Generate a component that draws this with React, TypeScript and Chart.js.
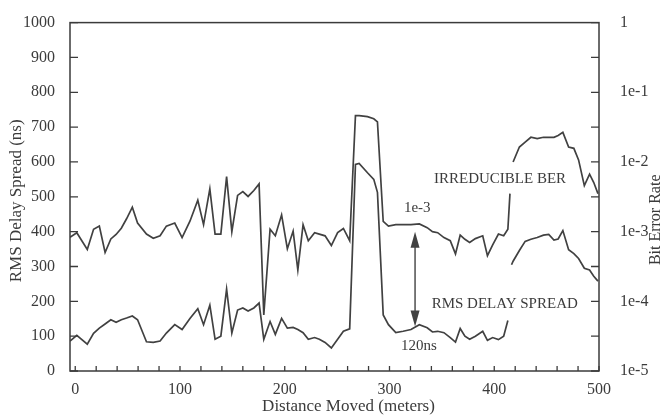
import { useEffect, useRef } from 'react';
import { Chart, registerables } from 'chart.js';

Chart.register(...registerables);

// Distance moved (meters) at each measurement point
const distance = [
  -5, 1.5, 11.5, 17.5, 23, 28.5, 34, 39, 44, 49, 54.5, 59.5, 68, 74.5, 81, 87, 95, 102, 109.5, 117,
  122.5, 128.5, 133.5, 139, 144.5, 149.5, 155, 160, 165, 170.5, 175.5, 180, 186, 191, 197, 202.5, 208, 212.5, 217.5, 222.5,
  228.5, 233, 238.5, 244.5, 250.5, 256, 262, 267.5, 271, 279, 285, 288.5, 294, 299, 306, 313, 320.5, 328.5, 336, 341,
  346, 352, 358, 363, 367.5, 372, 376.5, 382, 389, 393.5, 398.5, 404, 409, 413, 415, 416.5, 418, 424, 429.5, 435,
  441, 447, 452, 457, 461, 465.5, 471, 476, 480.5, 486, 491, 495, 499,
];

// RMS delay spread (ns), left axis
const delaySpread = [
  86, 102, 77, 108, 123, 135, 147, 140, 147, 152, 158, 147, 84, 82, 86, 109, 133, 119, 151, 179,
  133, 189, 91, 100, 235, 109, 175, 181, 172, 181, 195, 91, 142, 105, 151, 123, 125, 119, 110, 91,
  96, 91, 82, 66, 91, 114, 121, 593, 596, 569, 550, 513, 161, 133, 110, 114, 119, 133, 124, 112,
  114, 110, 96, 83, 122, 100, 91, 100, 114, 88, 96, 90, 100, 145, null, 305, 315, 346, 372, 378,
  383, 390, 392, 376, 379, 403, 348, 337, 323, 295, 290, 272, 258,
];

// Irreducible bit error rate, right (log) axis
const bitErrorRate = [
  8.32e-4, 9.66e-4, 5.56e-4, 1.08e-3, 1.2e-3, 5.01e-4, 7.85e-4, 9.12e-4, 1.12e-3, 1.53e-3, 2.24e-3, 1.33e-3, 9.23e-4, 8.04e-4, 8.71e-4, 1.2e-3, 1.33e-3, 8.22e-4, 1.41e-3, 2.82e-3,
  1.26e-3, 4.12e-3, 9.23e-4, 9.23e-4, 6.17e-3, 1.0e-3, 3.31e-3, 3.76e-3, 3.2e-3, 3.89e-3, 4.84e-3, 6.38e-5, 1.08e-3, 8.71e-4, 1.74e-3, 5.69e-4, 1.02e-3, 2.82e-4, 1.26e-3, 7.41e-4,
  9.66e-4, 9.23e-4, 8.71e-4, 6.31e-4, 9.66e-4, 1.11e-3, 7.41e-4, 4.62e-2, 4.62e-2, 4.47e-2, 4.17e-2, 3.76e-2, 1.4e-3, 1.2e-3, 1.26e-3, 1.26e-3, 1.26e-3, 1.29e-3, 1.14e-3, 1.0e-3,
  9.66e-4, 8.22e-4, 7.41e-4, 4.79e-4, 8.91e-4, 7.76e-4, 7.0e-4, 7.94e-4, 8.71e-4, 4.52e-4, 6.46e-4, 9.23e-4, 8.71e-4, 1.08e-3, 3.51e-3, null, 1.0e-2, 1.64e-2, 1.93e-2, 2.26e-2,
  2.16e-2, 2.26e-2, 2.26e-2, 2.26e-2, 2.4e-2, 2.66e-2, 1.64e-2, 1.57e-2, 1.07e-2, 4.57e-3, 6.68e-3, 5.07e-3, 3.51e-3,
];

const distanceTicks = [0, 20, 40, 60, 80, 100, 120, 140, 160, 180, 200, 220, 240, 260, 280, 300, 320, 340, 360, 380, 400, 420, 440, 460, 480, 500];
const distanceLabels = [0, 100, 200, 300, 400, 500];
const delayTicks = [0, 100, 200, 300, 400, 500, 600, 700, 800, 900, 1000];
const berTicks = [1e-5, 3.16e-5, 1e-4, 3.16e-4, 1e-3, 3.16e-3, 1e-2, 3.16e-2, 1e-1, 3.16e-1, 1];
const berTickLabels = ['1e-5', '', '1e-4', '', '1e-3', '', '1e-2', '', '1e-1', '', '1'];

const FONT = '"Liberation Serif", "Times New Roman", serif';
const INK = '#3b3b3b';
const LINE = '#414141';

const decorations = {
  id: 'decorations',
  afterDatasetsDraw(chart: any) {
    const { ctx, chartArea: a, scales } = chart;
    const xs = scales.x;
    const ys = scales.y;
    const yb = scales.y1;
    ctx.save();
    // frame
    ctx.strokeStyle = INK;
    ctx.lineWidth = 1.5;
    ctx.strokeRect(a.left, a.top, a.right - a.left, a.bottom - a.top);
    // inward ticks
    ctx.lineWidth = 1.3;
    ctx.beginPath();
    delayTicks.forEach((v) => {
      const p = ys.getPixelForValue(v);
      ctx.moveTo(a.left, p);
      ctx.lineTo(a.left + 8, p);
    });
    berTicks.forEach((v) => {
      const p = yb.getPixelForValue(v);
      ctx.moveTo(a.right, p);
      ctx.lineTo(a.right - 8, p);
    });
    distanceTicks.forEach((v) => {
      const p = xs.getPixelForValue(v);
      ctx.moveTo(p, a.bottom);
      ctx.lineTo(p, a.bottom - 5);
    });
    ctx.stroke();

    // axis titles
    ctx.fillStyle = INK;
    ctx.textAlign = 'center';
    ctx.textBaseline = 'middle';
    ctx.font = `17px ${FONT}`;
    ctx.fillText('Distance Moved (meters)', (a.left + a.right) / 2 + 14, a.bottom + 36, 176);
    ctx.save();
    ctx.translate(a.left - 53, (a.top + a.bottom) / 2 + 4);
    ctx.rotate(-Math.PI / 2);
    ctx.fillText('RMS Delay Spread (ns)', 0, 0, 166);
    ctx.restore();
    ctx.save();
    ctx.font = `16px ${FONT}`;
    ctx.translate(a.right + 57, (a.top + a.bottom) / 2 + 23);
    ctx.rotate(-Math.PI / 2);
    ctx.fillText('Bit Error Rate', 0, 0);
    ctx.restore();

    // annotations
    ctx.font = `15px ${FONT}`;
    ctx.fillText('IRREDUCIBLE BER', xs.getPixelForValue(405.5), ys.getPixelForValue(551), 138);
    ctx.fillText('RMS DELAY SPREAD', xs.getPixelForValue(410), ys.getPixelForValue(192), 154);
    ctx.fillText('1e-3', xs.getPixelForValue(326.5), ys.getPixelForValue(468));
    ctx.fillText('120ns', xs.getPixelForValue(328), ys.getPixelForValue(72));

    // double-headed arrow
    const ax = xs.getPixelForValue(324.4);
    const yTop = yb.getPixelForValue(1e-3);
    const yBot = ys.getPixelForValue(128);
    const head = 16;
    const half = 4.5;
    ctx.strokeStyle = LINE;
    ctx.fillStyle = LINE;
    ctx.lineWidth = 1.4;
    ctx.beginPath();
    ctx.moveTo(ax, yTop + head - 2);
    ctx.lineTo(ax, yBot - head + 2);
    ctx.stroke();
    ctx.beginPath();
    ctx.moveTo(ax, yTop);
    ctx.lineTo(ax - half, yTop + head);
    ctx.lineTo(ax + half, yTop + head);
    ctx.closePath();
    ctx.fill();
    ctx.beginPath();
    ctx.moveTo(ax, yBot);
    ctx.lineTo(ax - half, yBot - head);
    ctx.lineTo(ax + half, yBot - head);
    ctx.closePath();
    ctx.fill();
    ctx.restore();
  },
};

export default function App() {
  const canvasRef = useRef<HTMLCanvasElement | null>(null);

  useEffect(() => {
    if (!canvasRef.current) return;
    const tickFont = { family: FONT, size: 16 };
    const chart = new Chart(canvasRef.current, {
      type: 'line',
      data: {
        datasets: [
          {
            label: 'Irreducible BER',
            data: distance.map((d, i) => ({ x: d, y: bitErrorRate[i] })),
            yAxisID: 'y1',
            borderColor: LINE,
            borderWidth: 1.7,
            pointRadius: 0,
            tension: 0,
            spanGaps: false,
          },
          {
            label: 'RMS Delay Spread',
            data: distance.map((d, i) => ({ x: d, y: delaySpread[i] })),
            yAxisID: 'y',
            borderColor: LINE,
            borderWidth: 1.7,
            pointRadius: 0,
            tension: 0,
            spanGaps: false,
          },
        ],
      },
      options: {
        animation: false,
        responsive: false,
        layout: { padding: { top: 12, left: 0, right: 0, bottom: 0 } },
        plugins: { legend: { display: false }, tooltip: { enabled: false } },
        scales: {
          x: {
            type: 'linear',
            position: 'bottom',
            min: -5,
            max: 500,
            grid: { display: false },
            border: { display: false },
            afterBuildTicks: (s: any) => {
              s.ticks = distanceTicks.map((v) => ({ value: v }));
            },
            afterFit: (s: any) => {
              s.height = 47;
            },
            ticks: {
              autoSkip: false,
              maxRotation: 0,
              padding: 1,
              color: INK,
              font: tickFont,
              callback: (v: any) => (distanceLabels.includes(Number(v)) ? String(v) : ''),
            },
          },
          y: {
            type: 'linear',
            position: 'left',
            min: 0,
            max: 1000,
            grid: { display: false },
            border: { display: false },
            afterBuildTicks: (s: any) => {
              s.ticks = delayTicks.map((v) => ({ value: v }));
            },
            afterFit: (s: any) => {
              s.width = 70;
            },
            ticks: {
              autoSkip: false,
              padding: 7,
              color: INK,
              font: tickFont,
              callback: (v: any) => String(v),
            },
          },
          y1: {
            type: 'logarithmic',
            position: 'right',
            min: 1e-5,
            max: 1,
            grid: { display: false },
            border: { display: false },
            afterBuildTicks: (s: any) => {
              s.ticks = berTicks.map((v) => ({ value: v }));
            },
            afterFit: (s: any) => {
              s.width = 63;
            },
            ticks: {
              autoSkip: false,
              padding: 13,
              color: INK,
              font: tickFont,
              callback: (_v: any, i: number) => berTickLabels[i],
            },
          },
        },
      },
      plugins: [decorations],
    });
    return () => chart.destroy();
  }, []);

  return (
    <div style={{ position: 'absolute', left: 0, top: 0, width: 662, height: 418, background: '#fff' }}>
      <canvas ref={canvasRef} width={662} height={418} />
    </div>
  );
}
